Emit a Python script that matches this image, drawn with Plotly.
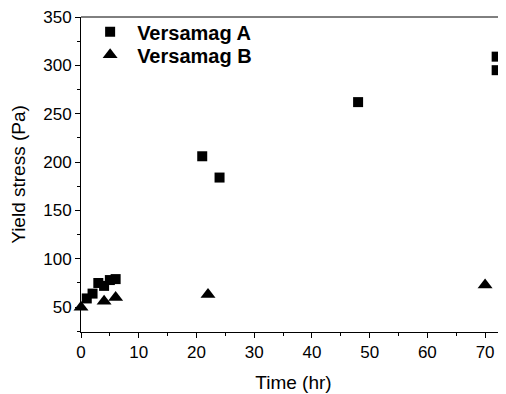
import plotly.graph_objects as go

# Data
a_time = [1, 2, 3, 4, 5, 6, 21, 24, 48, 72, 72]
a_stress = [59, 64, 75, 72, 78, 79, 206, 184, 262, 309, 295]
b_time = [0, 4, 6, 22, 70]
b_stress = [50, 56, 60, 63, 73]

x_ticks = [0, 10, 20, 30, 40, 50, 60, 70]
y_ticks = [50, 100, 150, 200, 250, 300, 350]

FONT = "Liberation Sans, Arial, sans-serif"

fig = go.Figure()
fig.add_trace(go.Scatter(
    x=a_time, y=a_stress, mode="markers", name="Versamag A", legend="legend",
    marker=dict(symbol="square", size=10, color="black", line=dict(width=0)),
    cliponaxis=False,
))
fig.add_trace(go.Scatter(
    x=b_time, y=b_stress, mode="markers", name="Versamag B", legend="legend2",
    marker=dict(symbol="triangle-up", size=13, color="black", line=dict(width=0)),
    cliponaxis=False,
))

axis_common = dict(
    showgrid=False, zeroline=False, showline=True, linecolor="black", linewidth=1,
    ticks="outside", ticklen=5, tickwidth=1, tickcolor="black",
    tickfont=dict(family=FONT, size=17, color="black"),
    ticklabeloverflow="allow",
)

fig.update_xaxes(
    range=[0, 73.62], tickvals=x_ticks,
    minor=dict(ticks="outside", ticklen=3, dtick=5, tick0=0, tickcolor="black", tickwidth=1),
    title=dict(text="Time (hr)", font=dict(family=FONT, size=19, color="black"), standoff=14),
    **axis_common,
)
fig.update_yaxes(
    range=[24.3, 350], tickvals=y_ticks,
    minor=dict(ticks="outside", ticklen=3, dtick=25, tick0=0, tickcolor="black", tickwidth=1),
    title=dict(text="Yield stress (Pa)", font=dict(family=FONT, size=19, color="black"), standoff=12),
    **axis_common,
)

fig.add_shape(type="line", xref="paper", yref="paper", x0=0, x1=1, y0=1, y1=1,
              line=dict(color="black", width=1))

legend_style = dict(
    xanchor="left", yanchor="top",
    font=dict(family=FONT, size=20, color="black", weight="bold"),
    bgcolor="rgba(0,0,0,0)", borderwidth=0, itemwidth=44,
)

fig.update_layout(
    width=498, height=386,
    margin=dict(l=73, r=0, t=7, b=62),
    paper_bgcolor="white", plot_bgcolor="white",
    showlegend=True,
    legend=dict(x=0.005, y=1.015, **legend_style),
    legend2=dict(x=0.005, y=0.942, **legend_style),
)

fig.write_html("out.html")
